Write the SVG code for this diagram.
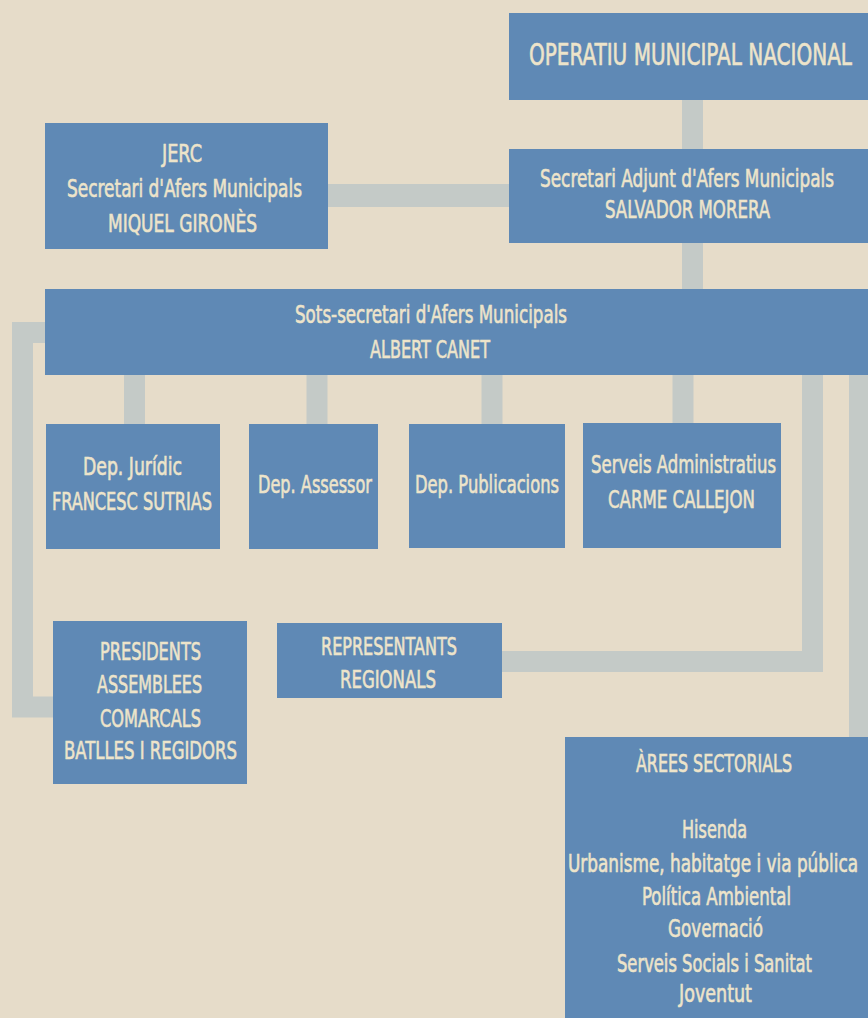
<svg xmlns="http://www.w3.org/2000/svg" width="868" height="1018" viewBox="0 0 868 1018">
<style>
.box{fill:#5f89b5}
.t{fill:#ede4ca;stroke:#ede4ca;stroke-width:0.6px;font-family:"Liberation Sans Narrow","DejaVu Sans Condensed","Liberation Sans",sans-serif;font-size:25px}
.big{font-size:30px}
.c{stroke:#c4cac7;fill:none;stroke-width:21;stroke-linecap:butt;stroke-linejoin:miter}
</style>
<rect x="0" y="0" width="868" height="1018" fill="#e6dcc9"/>
<g id="connectors">
<line class="c" x1="692.5" y1="100" x2="692.5" y2="290"/>
<line class="c" x1="328" y1="195.5" x2="510" y2="195.5" style="stroke-width:23"/>
<line class="c" x1="134.5" y1="374" x2="134.5" y2="425"/>
<line class="c" x1="317" y1="374" x2="317" y2="425"/>
<line class="c" x1="492" y1="374" x2="492" y2="425"/>
<line class="c" x1="683" y1="374" x2="683" y2="425"/>
<polyline class="c" points="46,332.5 22.5,332.5 22.5,707 54,707"/>
<polyline class="c" points="812.5,374 812.5,661.5 500,661.5"/>
<line class="c" x1="859.5" y1="374" x2="859.5" y2="738"/>
</g>
<g id="operatiu">
<rect class="box" x="509" y="13" width="370" height="87"/>
<text class="t big" x="529" y="65" textLength="323" lengthAdjust="spacingAndGlyphs">OPERATIU MUNICIPAL NACIONAL</text>
</g>
<g id="jerc">
<rect class="box" x="45" y="123" width="283" height="126"/>
<text class="t" x="162" y="162" textLength="40" lengthAdjust="spacingAndGlyphs">JERC</text>
<text class="t" x="67" y="197" textLength="235" lengthAdjust="spacingAndGlyphs">Secretari d'Afers Municipals</text>
<text class="t" x="108" y="232" textLength="149" lengthAdjust="spacingAndGlyphs">MIQUEL GIRONÈS</text>
</g>
<g id="secretari-adjunt">
<rect class="box" x="509" y="149" width="370" height="94"/>
<text class="t" x="540" y="187" textLength="294" lengthAdjust="spacingAndGlyphs">Secretari Adjunt d'Afers Municipals</text>
<text class="t" x="605" y="218" textLength="165" lengthAdjust="spacingAndGlyphs">SALVADOR MORERA</text>
</g>
<g id="sots-secretari">
<rect class="box" x="45" y="289" width="830" height="86"/>
<text class="t" x="295" y="323" textLength="272" lengthAdjust="spacingAndGlyphs">Sots-secretari d'Afers Municipals</text>
<text class="t" x="370" y="358" textLength="120" lengthAdjust="spacingAndGlyphs">ALBERT CANET</text>
</g>
<g id="dep-juridic">
<rect class="box" x="46" y="424" width="174" height="125"/>
<text class="t" x="83" y="475" textLength="99" lengthAdjust="spacingAndGlyphs">Dep. Jurídic</text>
<text class="t" x="52" y="510" textLength="160" lengthAdjust="spacingAndGlyphs">FRANCESC SUTRIAS</text>
</g>
<g id="dep-assessor">
<rect class="box" x="249" y="424" width="129" height="125"/>
<text class="t" x="258" y="493" textLength="114" lengthAdjust="spacingAndGlyphs">Dep. Assessor</text>
</g>
<g id="dep-publicacions">
<rect class="box" x="409" y="424" width="156" height="124"/>
<text class="t" x="415" y="493" textLength="144" lengthAdjust="spacingAndGlyphs">Dep. Publicacions</text>
</g>
<g id="serveis-administratius">
<rect class="box" x="583" y="423" width="198" height="125"/>
<text class="t" x="591" y="473" textLength="185" lengthAdjust="spacingAndGlyphs">Serveis Administratius</text>
<text class="t" x="608" y="508" textLength="147" lengthAdjust="spacingAndGlyphs">CARME CALLEJON</text>
</g>
<g id="presidents">
<rect class="box" x="53" y="621" width="194" height="163"/>
<text class="t" x="100" y="660" textLength="101" lengthAdjust="spacingAndGlyphs">PRESIDENTS</text>
<text class="t" x="97" y="693" textLength="105" lengthAdjust="spacingAndGlyphs">ASSEMBLEES</text>
<text class="t" x="100" y="727" textLength="101" lengthAdjust="spacingAndGlyphs">COMARCALS</text>
<text class="t" x="64" y="759" textLength="173" lengthAdjust="spacingAndGlyphs">BATLLES I REGIDORS</text>
</g>
<g id="representants">
<rect class="box" x="277" y="623" width="225" height="75"/>
<text class="t" x="321" y="655" textLength="136" lengthAdjust="spacingAndGlyphs">REPRESENTANTS</text>
<text class="t" x="340" y="688" textLength="96" lengthAdjust="spacingAndGlyphs">REGIONALS</text>
</g>
<g id="arees-sectorials">
<rect class="box" x="565" y="737" width="310" height="290"/>
<text class="t" x="636" y="772" textLength="156" lengthAdjust="spacingAndGlyphs">ÀREES SECTORIALS</text>
<text class="t" x="682" y="838" textLength="65" lengthAdjust="spacingAndGlyphs">Hisenda</text>
<text class="t" x="568" y="872" textLength="290" lengthAdjust="spacingAndGlyphs">Urbanisme, habitatge i via pública</text>
<text class="t" x="642" y="905" textLength="149" lengthAdjust="spacingAndGlyphs">Política Ambiental</text>
<text class="t" x="668" y="937" textLength="95" lengthAdjust="spacingAndGlyphs">Governació</text>
<text class="t" x="617" y="972" textLength="195" lengthAdjust="spacingAndGlyphs">Serveis Socials i Sanitat</text>
<text class="t" x="679" y="1002" textLength="73" lengthAdjust="spacingAndGlyphs">Joventut</text>
</g>
</svg>
